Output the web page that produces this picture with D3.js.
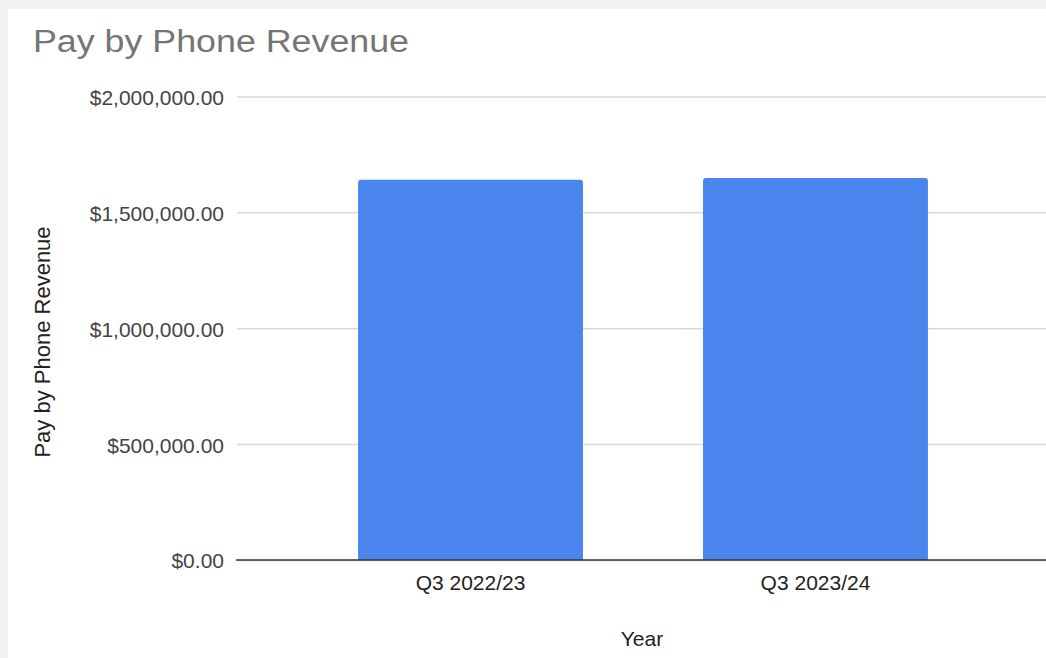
<!DOCTYPE html>
<meta charset="utf-8">
<script src="https://d3js.org/d3.v7.min.js"></script>
<style>
  body { margin: 0; background: #f1f1f1; }
  svg { display: block; font-family: Arial, "Liberation Sans", sans-serif; }
</style>
<div id="chart"></div>
<script>
// data
const quarters = ["Q3 2022/23", "Q3 2023/24"];
const revenue = [1640000, 1648000];
const yTicks = [0, 500000, 1000000, 1500000, 2000000];

const W = 1046, H = 658;
const margin = {top: 96.4, right: -2, bottom: 98, left: 238};

const svg = d3.select("#chart").append("svg")
  .attr("width", W)
  .attr("height", H);

// white card
svg.append("rect")
  .attr("x", 8).attr("y", 9)
  .attr("width", W - 8).attr("height", H - 9)
  .attr("fill", "#fff");

const x = d3.scaleBand()
  .domain(quarters)
  .range([margin.left, W - margin.right])
  .padding(0.348);

const y = d3.scaleLinear()
  .domain([0, 2000000])
  .range([H - margin.bottom, margin.top]);

// gridlines + y labels
const yAxis = svg.append("g")
  .attr("transform", "translate(" + (margin.left - 1) + ",0)")
  .call(d3.axisLeft(y)
    .tickValues(yTicks)
    .tickSize(-(W - margin.left + 2))
    .tickPadding(13)
    .tickFormat(d3.format("$,.2f")));
yAxis.select(".domain").remove();
yAxis.selectAll(".tick line").attr("stroke", "#d9d9d9").attr("stroke-width", 1.5);
yAxis.selectAll(".tick text")
  .attr("fill", "#444")
  .attr("font-size", 21)
  .attr("dy", "0.38em");

// bars, rounded top corners
const r = 3;
svg.selectAll(".bar")
  .data(revenue)
  .enter()
  .append("path")
  .attr("class", "bar")
  .attr("fill", "#4a84ed")
  .attr("d", function(d, i) {
    const x0 = x(quarters[i]), w = x.bandwidth();
    const y0 = y(d), y1 = y(0);
    return "M" + x0 + "," + y1 +
      "V" + (y0 + r) +
      "Q" + x0 + "," + y0 + " " + (x0 + r) + "," + y0 +
      "H" + (x0 + w - r) +
      "Q" + (x0 + w) + "," + y0 + " " + (x0 + w) + "," + (y0 + r) +
      "V" + y1 + "Z";
  });

// baseline
svg.append("line")
  .attr("x1", margin.left - 2).attr("x2", W)
  .attr("y1", y(0)).attr("y2", y(0))
  .attr("stroke", "#333")
  .attr("stroke-width", 1.6);

// x labels
const xAxis = svg.append("g")
  .attr("transform", "translate(0," + y(0) + ")")
  .call(d3.axisBottom(x).tickSize(0).tickPadding(15));
xAxis.select(".domain").remove();
xAxis.selectAll(".tick text")
  .attr("fill", "#222")
  .attr("font-size", 21);

// titles
svg.append("text")
  .attr("x", 33).attr("y", 52)
  .attr("fill", "#757575")
  .attr("font-size", 31)
  .attr("textLength", 376)
  .attr("lengthAdjust", "spacingAndGlyphs")
  .text("Pay by Phone Revenue");

svg.append("text")
  .attr("transform", "translate(50,342) rotate(-90)")
  .attr("text-anchor", "middle")
  .attr("fill", "#222")
  .attr("font-size", 22)
  .text("Pay by Phone Revenue");

svg.append("text")
  .attr("x", 642).attr("y", 646)
  .attr("text-anchor", "middle")
  .attr("fill", "#222")
  .attr("font-size", 21)
  .text("Year");
</script>
